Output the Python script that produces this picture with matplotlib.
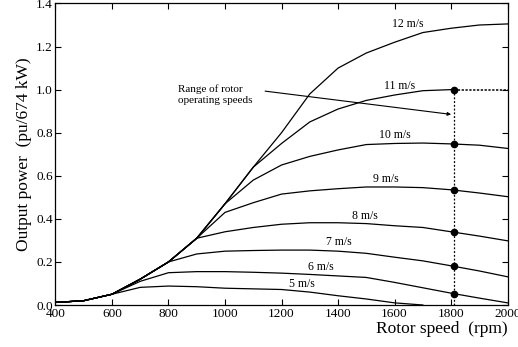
import numpy as np
import matplotlib
matplotlib.use("Agg")
import matplotlib.pyplot as plt

plt.rcParams['font.family'] = ['Liberation Serif', 'DejaVu Serif']

# ---- data ----
rpm = [400, 500, 600, 700, 800, 900, 1000, 1100, 1200, 1300, 1400,
       1500, 1600, 1700, 1800, 1900, 2000]
p12 = [0.012, 0.02, 0.05, 0.12, 0.20, 0.31, 0.47, 0.64, 0.80, 0.98, 1.10,
       1.17, 1.22, 1.265, 1.285, 1.30, 1.305]
p11 = [0.012, 0.02, 0.05, 0.12, 0.20, 0.31, 0.47, 0.64, 0.75, 0.85, 0.91,
       0.95, 0.975, 0.995, 1.0]
p10 = [0.012, 0.02, 0.05, 0.12, 0.20, 0.31, 0.47, 0.58, 0.65, 0.69, 0.72,
       0.745, 0.75, 0.752, 0.748, 0.742, 0.727]
p9 = [0.012, 0.02, 0.05, 0.12, 0.20, 0.31, 0.43, 0.475, 0.515, 0.53, 0.54,
      0.548, 0.548, 0.545, 0.535, 0.52, 0.503]
p8 = [0.012, 0.02, 0.05, 0.12, 0.20, 0.31, 0.34, 0.36, 0.375, 0.382, 0.382,
      0.378, 0.368, 0.36, 0.34, 0.32, 0.298]
p7 = [0.012, 0.02, 0.05, 0.12, 0.20, 0.237, 0.25, 0.253, 0.255, 0.255, 0.25,
      0.24, 0.222, 0.205, 0.182, 0.158, 0.131]
p6 = [0.012, 0.02, 0.05, 0.11, 0.15, 0.155, 0.155, 0.152, 0.148, 0.142, 0.135,
      0.128, 0.105, 0.08, 0.055, 0.032, 0.01]
p5 = [0.012, 0.02, 0.05, 0.082, 0.088, 0.085, 0.078, 0.075, 0.072, 0.06, 0.043,
      0.028, 0.01, 0.0]

curves = [p12, p11, p10, p9, p8, p7, p6, p5]
labels = ['12 m/s', '11 m/s', '10 m/s', '9 m/s', '8 m/s', '7 m/s', '6 m/s', '5 m/s']
label_x = [1648, 1618, 1601, 1569, 1494, 1404, 1338, 1272]
label_y = [1.305, 1.017, 0.79, 0.583, 0.413, 0.294, 0.178, 0.096]

op_rpm = 1810          # rotor operating speed marker
rated_power = 1.0      # power limit (pu)
dot_curves = [p11, p10, p9, p8, p7, p6]

annot_text = "Range of rotor\noperating speeds"
annot_xy_text = (834, 0.975)
annot_tail = (1142, 0.993)
annot_head = (1800, 0.885)

xticks = [400, 600, 800, 1000, 1200, 1400, 1600, 1800, 2000]
yticks = [0.0, 0.2, 0.4, 0.6, 0.8, 1.0, 1.2, 1.4]

# ---- plot ----
fig = plt.figure(figsize=(5.18, 3.47), dpi=100)
ax = fig.add_axes([0.107, 0.121, 0.873, 0.869])

for c in curves:
    ax.plot(rpm[:len(c)], c, color='black', lw=0.9, solid_joinstyle='miter')

for t, x, y in zip(labels, label_x, label_y):
    ax.text(x, y, t, ha='center', va='center', fontsize=8.5)

# operating speed line and dots
ax.plot([op_rpm, op_rpm], [0, rated_power], color='black', lw=0.9, ls=(0, (1.5, 1.5)))
ax.plot([op_rpm, 2000], [rated_power, rated_power], color='black', lw=1.1, ls=(0, (1.5, 1.0)))
dot_y = [np.interp(op_rpm, rpm[:len(c)], c) for c in dot_curves]
ax.plot([op_rpm] * len(dot_y), dot_y, 'o', color='black', ms=4.5)

# annotation
ax.text(annot_xy_text[0], annot_xy_text[1], annot_text, ha='left', va='center',
        fontsize=8, linespacing=1.25)
ax.annotate('', xy=annot_head, xytext=annot_tail,
            arrowprops=dict(arrowstyle='-|>', color='black', lw=0.8,
                            mutation_scale=5, shrinkA=0, shrinkB=0))

ax.set_xlim(400, 2000)
ax.set_ylim(0, 1.4)
ax.set_xticks(xticks)
ax.set_yticks(yticks)
ax.set_yticklabels([f"{v:.1f}" for v in yticks])
ax.tick_params(direction='in', top=True, right=True, length=4, width=0.8,
               labelsize=9.5, pad=2)
for s in ax.spines.values():
    s.set_linewidth(0.9)

ax.set_xlabel('Rotor speed  (rpm)', fontsize=12.5, ha='right', x=1.0, labelpad=1)
ax.set_ylabel('Output power  (pu/674 kW)', fontsize=12.5, labelpad=3)

fig.savefig('out.png', dpi=100)
